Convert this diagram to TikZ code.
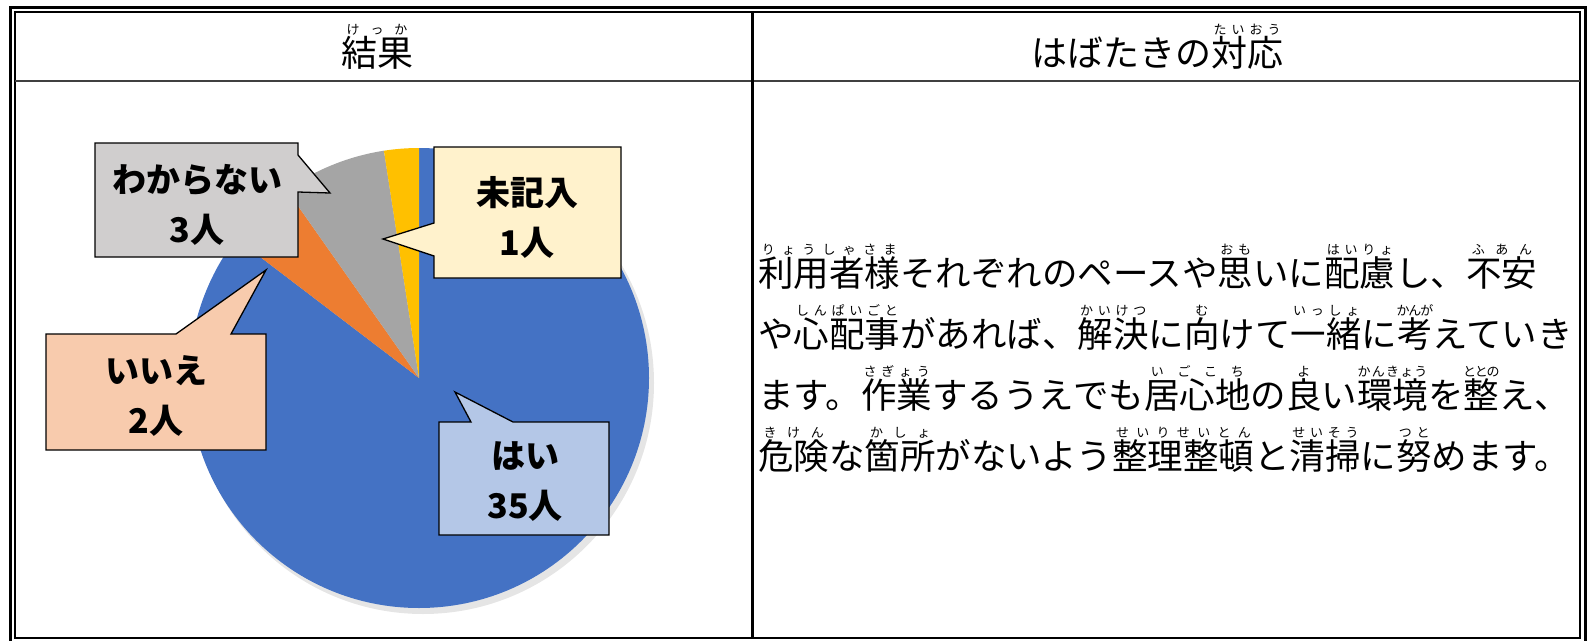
\documentclass[tikz,border=0pt]{standalone}
\usepackage{fontspec}
\setmainfont{Noto Sans CJK JP}
\definecolor{pieblue}{HTML}{4472C4}
\definecolor{pieorange}{HTML}{ED7D31}
\definecolor{piegray}{HTML}{A5A5A5}
\definecolor{pieyellow}{HTML}{FFC000}
\definecolor{yesfill}{HTML}{B4C7E7}
\definecolor{nofill}{HTML}{F8CBAD}
\definecolor{unkfill}{HTML}{D0CECE}
\definecolor{blankfill}{HTML}{FFF2CC}
% furigana over a group of kanji
\newsavebox\rbbox
\def\rbspread#1{\ifx#1\relax\else\hskip0pt plus1fil minus2pt#1\hskip0pt plus1fil minus2pt\expandafter\rbspread\fi}
\newcommand\rb[2]{\sbox\rbbox{#1}\makebox[0pt][l]{\raisebox{0.88em}[0pt][0pt]{\hbox to\wd\rbbox{\fontsize{13}{13}\selectfont\rbspread#2\relax}}}\usebox\rbbox}
\begin{document}
\begin{tikzpicture}[x=1pt, y=-1pt,
    lbl/.style={font=\fontsize{34}{50}\selectfont\bfseries, align=center, inner sep=0pt},
    txt/.style={anchor=base west, inner sep=0pt, font=\fontsize{35.5}{35.5}\selectfont},
    hdr/.style={anchor=base, inner sep=0pt, font=\fontsize{36}{36}\selectfont},
    box/.style={draw=black, line width=1.3pt, line join=miter}]
    \useasboundingbox (0,0) rectangle (1590,640);
    % table frame
    \draw[line width=3pt] (10,7) rectangle (1585,660);
    \draw[line width=2pt] (15,11.5) rectangle (1580,638);
    \draw[line width=2pt, black!75] (15,81) -- (1580,81);
    \draw[line width=3pt] (752,11.5) -- (752,638);
    \node[hdr] (res) at (377,66) {\rb{結果}{けっか}};
    \node[hdr] (resp) at (1157,66) {はばたきの\rb{対応}{たいおう}};
    % pie 35/2/3/1
    \coordinate (pc) at (419,378);
    \fill[black, opacity=.10] (423,383) circle (231);
    \fill[pieblue] (pc) -- ++(-90:230) arc[start angle=-90, end angle=217.32, radius=230] -- cycle;
    \fill[pieorange] (pc) -- ++(217.32:230) arc[start angle=217.32, end angle=234.88, radius=230] -- cycle;
    \fill[piegray] (pc) -- ++(234.88:230) arc[start angle=234.88, end angle=261.22, radius=230] -- cycle;
    \fill[pieyellow] (pc) -- ++(261.22:230) arc[start angle=261.22, end angle=270, radius=230] -- cycle;
    % callouts
    \filldraw[box, fill=unkfill] (95,143) -- (298,143) -- (298,155) -- (330,193) -- (298,192) -- (298,257) -- (95,257) -- cycle;
    \node[lbl] (unk) at (197,205) {わからない\\3人};
    \filldraw[box, fill=blankfill] (434,147) -- (621,147) -- (621,278) -- (434,278) -- (434,256) -- (383,239) -- (434,223) -- cycle;
    \node[lbl] (blank) at (527,217) {未記入\\1人};
    \filldraw[box, fill=nofill] (46,334) -- (176,334) -- (266,270) -- (231,334) -- (266,334) -- (266,450) -- (46,450) -- cycle;
    \node[lbl] (no) at (156,396) {いいえ\\2人};
    \filldraw[box, fill=yesfill] (439,422) -- (471,422) -- (455,392) -- (513,422) -- (609,422) -- (609,535) -- (439,535) -- cycle;
    \node[lbl] (yes) at (525,482) {はい\\35人};
    % response text
    \node[txt] (l1) at (758,286) {\rb{利用者様}{りょうしゃさま}それぞれのペースや\rb{思}{おも}いに\rb{配慮}{はいりょ}し、\rb{不安}{ふあん}};
    \node[txt] (l2) at (758,347) {や\rb{心配事}{しんぱいごと}があれば、\rb{解決}{かいけつ}に\rb{向}{む}けて\rb{一緒}{いっしょ}に\rb{考}{かんが}えていき};
    \node[txt] (l3) at (758,408) {ます。\rb{作業}{さぎょう}するうえでも\rb{居心地}{いごこち}の\rb{良}{よ}い\rb{環境}{かんきょう}を\rb{整}{ととの}え、};
    \node[txt] (l4) at (758,469) {\rb{危険}{きけん}な\rb{箇所}{かしょ}がないよう\rb{整理整頓}{せいりせいとん}と\rb{清掃}{せいそう}に\rb{努}{つと}めます。};
\end{tikzpicture}
\end{document}
